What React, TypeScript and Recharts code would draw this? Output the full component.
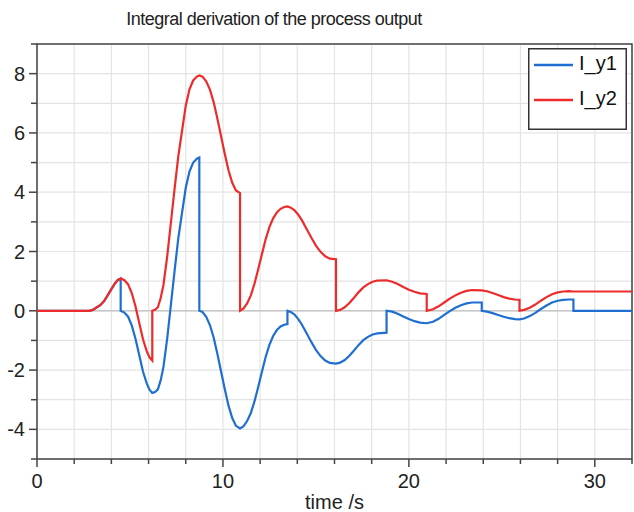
import React from 'react';
import {
  LineChart,
  Line,
  XAxis,
  YAxis,
  CartesianGrid,
  ReferenceLine,
  ReferenceArea,
  Legend,
} from 'recharts';

// sample times; a repeated time marks a reset (vertical jump) of one signal
const time = [
  0, 2.8, 3.0, 3.2, 3.4, 3.6, 3.8, 4.0, 4.2, 4.35, 4.5,
  4.5, 4.7, 4.9, 5.1, 5.3, 5.5, 5.7, 5.9, 6.05, 6.2,
  6.2, 6.35, 6.5, 6.65, 6.8, 7.0, 7.2, 7.4, 7.6, 7.8, 8.0, 8.2, 8.4, 8.6, 8.73,
  8.73, 8.9, 9.1, 9.3, 9.5, 9.7, 9.9, 10.1, 10.3, 10.5, 10.7, 10.92,
  10.92, 11.1, 11.3, 11.5, 11.7, 11.9, 12.1, 12.3, 12.5, 12.7, 12.9, 13.1, 13.3, 13.47,
  13.47, 13.65, 13.85, 14.05, 14.25, 14.5, 14.75, 15.0, 15.25, 15.5, 15.75, 16.08,
  16.08, 16.3, 16.55, 16.8, 17.05, 17.3, 17.55, 17.8, 18.05, 18.3, 18.8,
  18.8, 19.1, 19.4, 19.7, 20.0, 20.3, 20.6, 20.96,
  20.96, 21.3, 21.6, 21.9, 22.2, 22.5, 22.8, 23.1, 23.4, 23.92,
  23.92, 24.2, 24.5, 24.8, 25.1, 25.4, 25.7, 25.95,
  25.95, 26.2, 26.5, 26.8, 27.1, 27.4, 27.7, 28.0, 28.3, 28.6, 28.85,
  28.85, 32,
];

const iy1 = [
  0, 0, 0.03, 0.11, 0.19, 0.32, 0.52, 0.73, 0.93, 1.04, 1.09,
  0, -0.06, -0.2, -0.5, -0.95, -1.5, -2.05, -2.45, -2.66, -2.77,
  -2.77, -2.74, -2.65, -2.35, -1.9, -0.95, 0.2, 1.35, 2.45, 3.3, 4.15, 4.7, 5.0, 5.13, 5.17,
  0, -0.04, -0.2, -0.48, -0.9, -1.45, -2.05, -2.65, -3.2, -3.62, -3.88, -3.97,
  -3.97, -3.9, -3.72, -3.45, -3.05, -2.56, -2.05, -1.55, -1.15, -0.85, -0.65, -0.53, -0.47, -0.45,
  0, -0.04, -0.13, -0.28, -0.47, -0.76, -1.05, -1.32, -1.53, -1.68, -1.76, -1.78,
  -1.78, -1.75, -1.66, -1.52, -1.34, -1.15, -0.99, -0.88, -0.8, -0.76, -0.74,
  0, -0.03, -0.1, -0.19, -0.28, -0.35, -0.4, -0.42,
  -0.42, -0.37, -0.27, -0.14, -0.01, 0.1, 0.19, 0.25, 0.28, 0.28,
  0, -0.03, -0.08, -0.14, -0.2, -0.25, -0.28, -0.29,
  -0.29, -0.26, -0.18, -0.07, 0.06, 0.18, 0.28, 0.34, 0.37, 0.38, 0.38,
  0, 0,
];

const iy2 = [
  0, 0, 0.03, 0.11, 0.19, 0.32, 0.52, 0.73, 0.93, 1.04, 1.09,
  1.09, 1.03, 0.89, 0.59, 0.14, -0.41, -0.96, -1.36, -1.57, -1.68,
  0, 0.03, 0.12, 0.42, 0.87, 1.82, 2.97, 4.12, 5.22, 6.07, 6.92, 7.47, 7.77, 7.9, 7.94,
  7.94, 7.9, 7.74, 7.46, 7.04, 6.49, 5.89, 5.29, 4.74, 4.32, 4.06, 3.97,
  0, 0.07, 0.25, 0.52, 0.92, 1.41, 1.92, 2.42, 2.82, 3.12, 3.32, 3.44, 3.5, 3.52,
  3.52, 3.48, 3.39, 3.24, 3.05, 2.76, 2.47, 2.2, 1.99, 1.84, 1.76, 1.74,
  0, 0.03, 0.12, 0.26, 0.44, 0.63, 0.79, 0.9, 0.98, 1.02, 1.03,
  1.03, 0.98, 0.9, 0.8, 0.71, 0.64, 0.59, 0.57,
  0, 0.05, 0.15, 0.28, 0.41, 0.52, 0.61, 0.67, 0.7, 0.69,
  0.69, 0.66, 0.6, 0.53, 0.46, 0.41, 0.38, 0.37,
  0, 0.03, 0.1, 0.21, 0.34, 0.46, 0.56, 0.62, 0.65, 0.66, 0.65,
  0.65, 0.65,
];

const xTicks = [0, 2, 4, 6, 8, 10, 12, 14, 16, 18, 20, 22, 24, 26, 28, 30, 32];
const yTicks = [-5, -4, -3, -2, -1, 0, 1, 2, 3, 4, 5, 6, 7, 8, 9];

const rows = time.map((t, i) => ({ t, I_y1: iy1[i], I_y2: iy2[i] }));

const FONT = '"Liberation Sans", Arial, sans-serif';
const AXIS = '#444';

const XTick = ({ x, y, payload }: any) => {
  const major = payload.value % 10 === 0;
  return (
    <g>
      <line x1={x} x2={x} y1={y} y2={y + (major ? 8 : 5)} stroke={AXIS} strokeWidth={1.5} />
      {major && (
        <text x={x} y={y + 29} textAnchor="middle" fontSize={20} fontFamily={FONT} fill="#222">
          {payload.value}
        </text>
      )}
    </g>
  );
};

const YTick = ({ x, y, payload }: any) => {
  const major = payload.value % 2 === 0;
  return (
    <g>
      <line x1={x - (major ? 8 : 6)} x2={x} y1={y} y2={y} stroke={AXIS} strokeWidth={1.5} />
      {major && (
        <text x={x - 12} y={y + 7} textAnchor="end" fontSize={20} fontFamily={FONT} fill="#222">
          {payload.value}
        </text>
      )}
    </g>
  );
};

const LegendBox = ({ payload }: any) => (
  <svg width={99} height={82} style={{ display: 'block' }}>
    <rect x={0.75} y={0.75} width={97.5} height={80.5} fill="#fff" stroke="#333" strokeWidth={1.5} />
    {(payload || []).map((entry: any, i: number) => (
      <g key={entry.value}>
        <line x1={6} x2={45} y1={17 + i * 35} y2={17 + i * 35} stroke={entry.color} strokeWidth={2.5} />
        <text x={51} y={22 + i * 35} fontSize={20} fontFamily={FONT} fill="#111">
          {entry.value}
        </text>
      </g>
    ))}
  </svg>
);

export default function App() {
  return (
    <div style={{ position: 'absolute', left: 0, top: 0, width: 634, height: 512, background: '#fff' }}>
      <div
        style={{
          position: 'absolute',
          left: 0,
          top: 10,
          width: 548,
          textAlign: 'center',
          fontFamily: FONT,
          fontSize: 18,
          letterSpacing: '-0.5px',
          lineHeight: '18px',
          color: '#222',
        }}
      >
        Integral derivation of the process output
      </div>
      <LineChart width={634} height={512} data={rows} margin={{ top: 44, right: 2, bottom: 0, left: 0 }}>
        <CartesianGrid stroke="#e4e4e4" strokeWidth={1.2} />
        <XAxis
          dataKey="t"
          type="number"
          domain={[0, 32]}
          ticks={xTicks}
          interval={0}
          height={53}
          axisLine={false}
          tickLine={false}
          tickSize={0}
          tickMargin={0}
          tick={<XTick />}
          allowDataOverflow
          label={{ value: 'time /s', position: 'insideBottom', offset: 3, fontSize: 20, fontFamily: FONT, fill: '#222' }}
        />
        <YAxis
          type="number"
          domain={[-5, 9]}
          ticks={yTicks}
          interval={0}
          width={37}
          axisLine={false}
          tickLine={false}
          tickSize={0}
          tickMargin={0}
          tick={<YTick />}
          allowDataOverflow
        />
        <ReferenceLine y={0} stroke="#c8c8c8" strokeWidth={1.5} />
        <ReferenceArea x1={0} x2={32} y1={-5} y2={9} fill="none" stroke={AXIS} strokeWidth={1.5} ifOverflow="visible" />
        <Line type="linear" dataKey="I_y1" name="I_y1" stroke="#1f6fd1" strokeWidth={2.2} dot={false} isAnimationActive={false} />
        <Line type="linear" dataKey="I_y2" name="I_y2" stroke="#ee2b2b" strokeWidth={2.2} dot={false} isAnimationActive={false} />
        <Legend
          layout="horizontal"
          verticalAlign="middle"
          align="center"
          content={<LegendBox />}
          wrapperStyle={{ left: 528, top: 48, width: 99, height: 82 }}
        />
      </LineChart>
    </div>
  );
}
